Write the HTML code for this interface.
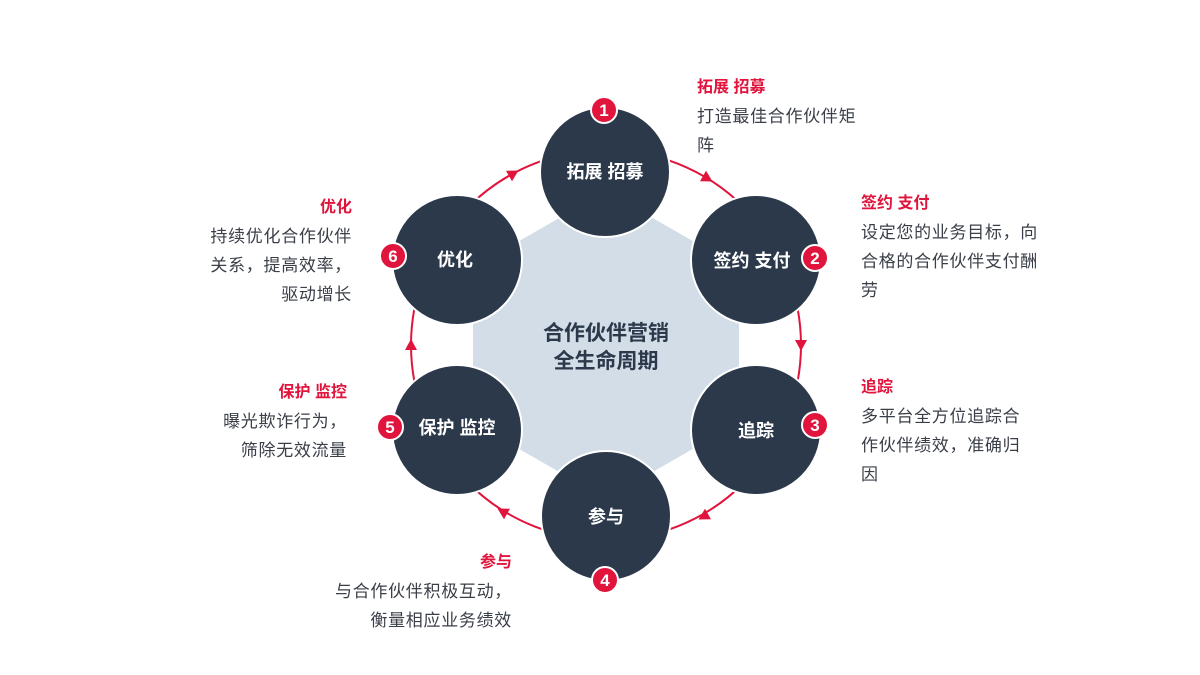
<!DOCTYPE html>
<html><head><meta charset="utf-8"><style>
body{margin:0;width:1200px;height:675px;background:#fff;overflow:hidden;position:relative;font-family:"Liberation Sans","Noto Sans CJK SC",sans-serif}
.t{position:absolute;font-size:17px;letter-spacing:0.7px;line-height:29px;color:#3a3f47}
.t b{color:#e0143c;display:block;font-size:16px;letter-spacing:0}
</style></head><body>
<svg width="1200" height="675" style="position:absolute;left:0;top:0">
<polygon points="606,220 714,282 714,408 606,470 498,408 498,282" fill="#d3dde7" stroke="#d3dde7" stroke-width="50" stroke-linejoin="round"/>
<circle cx="606" cy="345" r="195" fill="none" stroke="#e0143c" stroke-width="2"/>
<g fill="#e0143c">
<path d="M0,-6L11,0L0,6z" transform="translate(703,176) rotate(30)"/>
<path d="M0,-6L11,0L0,6z" transform="translate(801,340) rotate(90)"/>
<path d="M0,-6L11,0L0,6z" transform="translate(708,514) rotate(150)"/>
<path d="M0,-6L11,0L0,6z" transform="translate(507,514) rotate(210)"/>
<path d="M0,-6L11,0L0,6z" transform="translate(411,350) rotate(270)"/>
<path d="M0,-6L11,0L0,6z" transform="translate(509,176) rotate(330)"/>
</g>
<g fill="#2b394b" stroke="#fff" stroke-width="2">
<circle cx="605" cy="172" r="65"/><circle cx="756" cy="260" r="65"/><circle cx="756" cy="430" r="65"/>
<circle cx="606" cy="516" r="65"/><circle cx="457" cy="430" r="65"/><circle cx="457" cy="260" r="65"/>
</g>
<g fill="#fff" font-size="18" font-weight="bold" text-anchor="middle" font-family="Liberation Sans,Noto Sans CJK SC,sans-serif">
<text x="605" y="178">拓展 招募</text><text x="752" y="267">签约 支付</text><text x="756" y="437">追踪</text>
<text x="606" y="523">参与</text><text x="457" y="434">保护 监控</text><text x="455" y="266">优化</text>
</g>
<g fill="#e0143c" stroke="#fff" stroke-width="2"><circle cx="604" cy="110" r="13"/><circle cx="815" cy="258" r="13"/><circle cx="815" cy="425" r="13"/><circle cx="605" cy="580" r="13"/><circle cx="390" cy="427" r="13"/><circle cx="393" cy="256" r="13"/></g>
<g fill="#fff" font-size="17" font-weight="bold" text-anchor="middle" font-family="Liberation Sans,sans-serif">
<text x="604" y="116">1</text><text x="815" y="264">2</text><text x="815" y="431">3</text><text x="605" y="586">4</text><text x="390" y="433">5</text><text x="393" y="262">6</text>
</g>
<g fill="#2b394b" font-size="21" font-weight="bold" text-anchor="middle" font-family="Liberation Sans,Noto Sans CJK SC,sans-serif">
<text x="606" y="340">合作伙伴营销</text><text x="606" y="368">全生命周期</text>
</g>
</svg>
<div class="t" style="left:697px;top:73px"><b>拓展 招募</b>打造最佳合作伙伴矩<br>阵</div>
<div class="t" style="left:861px;top:189px"><b>签约 支付</b>设定您的业务目标，向<br>合格的合作伙伴支付酬<br>劳</div>
<div class="t" style="left:861px;top:373px"><b>追踪</b>多平台全方位追踪合<br>作伙伴绩效，准确归<br>因</div>
<div class="t" style="left:262px;top:548px;width:250px;text-align:right"><b>参与</b>与合作伙伴积极互动，<br>衡量相应业务绩效</div>
<div class="t" style="left:160px;top:378px;width:187px;text-align:right"><b>保护 监控</b>曝光欺诈行为，<br>筛除无效流量</div>
<div class="t" style="left:160px;top:193px;width:192px;text-align:right"><b>优化</b>持续优化合作伙伴<br>关系，提高效率，<br>驱动增长</div>
</body></html>
